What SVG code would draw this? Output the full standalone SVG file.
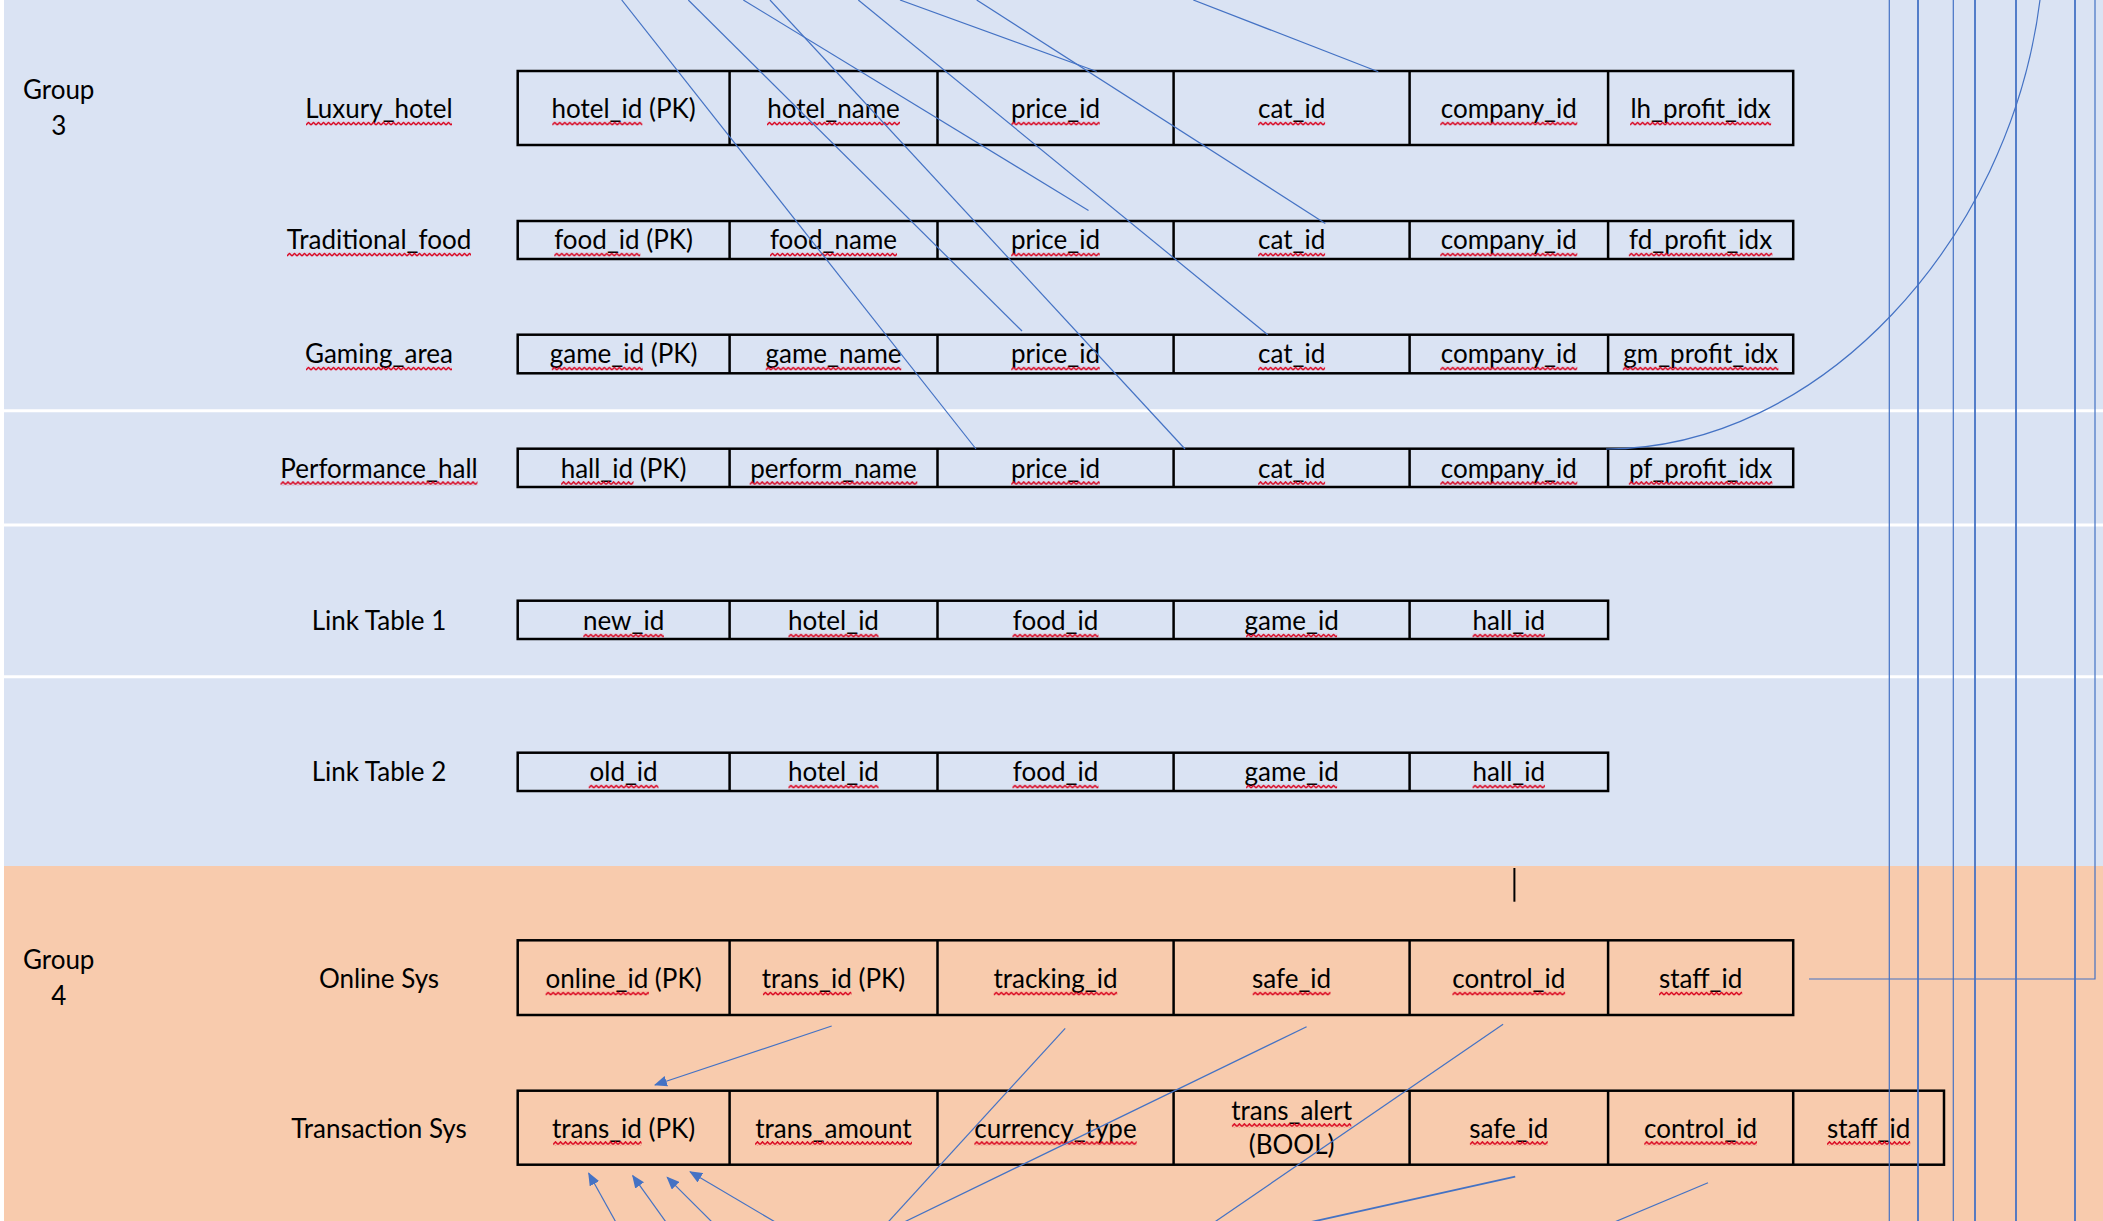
<svg xmlns="http://www.w3.org/2000/svg" width="2103" height="1221" viewBox="0 0 2103 1221">
<style>
.t{font-family:Lato,"Open Sans","Liberation Sans",sans-serif;font-size:26px;fill:#000;text-anchor:middle}
.cell{fill:none;stroke:#000;stroke-width:2.5}
.div{stroke:#000;stroke-width:2.5}
.sep{stroke:#FFFFFF;stroke-width:3}
.c{fill:none;stroke:#4472C4;stroke-width:1.2}
.cw{fill:none;stroke:#4472C4;stroke-width:1.8}
.w{fill:url(#wave)}
</style>
<defs>
<marker id="ah" viewBox="0 0 12 10" refX="11" refY="5" markerWidth="13" markerHeight="11" markerUnits="userSpaceOnUse" orient="auto"><path d="M0,0 L12,5 L0,10 z" fill="#4472C4"/></marker>
<pattern id="wave" patternUnits="userSpaceOnUse" x="0" y="0" width="5" height="4.5"><path d="M0,3.6 L2.5,0.9 L5,3.6" fill="none" stroke="#D9001B" stroke-width="1.5"/></pattern>
</defs>
<rect x="0" y="0" width="2103" height="1221" fill="#FFFFFF"/>
<rect x="4" y="0" width="2099" height="866" fill="#DAE3F3"/>
<rect x="4" y="866" width="2099" height="355" fill="#F8CBAD"/>
<line class="sep" x1="4" y1="410.7" x2="2103" y2="410.7"/>
<line class="sep" x1="4" y1="525" x2="2103" y2="525"/>
<line class="sep" x1="4" y1="676.7" x2="2103" y2="676.7"/>

<g id="group3-label"><text class="t" x="58.7" y="99">Group</text><text class="t" x="58.7" y="135">3</text></g>
<g id="group4-label"><text class="t" x="58.7" y="969">Group</text><text class="t" x="58.7" y="1005">4</text></g>

<g id="luxury_hotel">
<text class="t" x="379" y="118">Luxury_hotel</text>
<rect class="cell" x="517.7" y="71" width="1275.5" height="74"/>
<path class="div" d="M729.6,71V145M937.5,71V145M1173.6,71V145M1409.6,71V145M1608.1,71V145"/>
<text class="t" x="623.6" y="118">hotel_id (PK)</text>
<text class="t" x="833.5" y="118">hotel_name</text>
<text class="t" x="1055.5" y="118">price_id</text>
<text class="t" x="1291.6" y="118">cat_id</text>
<text class="t" x="1508.8" y="118">company_id</text>
<text class="t" x="1700.6" y="118">lh_profit_idx</text>
<rect class="w" transform="translate(306,121.5)" width="146" height="4.5"/>
<rect class="w" transform="translate(552.3,121.5)" width="90" height="4.5"/>
<rect class="w" transform="translate(767,121.5)" width="133" height="4.5"/>
<rect class="w" transform="translate(1011.25,121.5)" width="88.5" height="4.5"/>
<rect class="w" transform="translate(1258.1,121.5)" width="67" height="4.5"/>
<rect class="w" transform="translate(1440.3,121.5)" width="137" height="4.5"/>
<rect class="w" transform="translate(1630.1,121.5)" width="141" height="4.5"/>
</g>

<g id="traditional_food">
<text class="t" x="379" y="249">Traditional_food</text>
<rect class="cell" x="517.7" y="221" width="1275.5" height="38"/>
<path class="div" d="M729.6,221V259M937.5,221V259M1173.6,221V259M1409.6,221V259M1608.1,221V259"/>
<text class="t" x="623.6" y="249">food_id (PK)</text>
<text class="t" x="833.5" y="249">food_name</text>
<text class="t" x="1055.5" y="249">price_id</text>
<text class="t" x="1291.6" y="249">cat_id</text>
<text class="t" x="1508.8" y="249">company_id</text>
<text class="t" x="1700.6" y="249">fd_profit_idx</text>
<rect class="w" transform="translate(287,252.5)" width="184" height="4.5"/>
<rect class="w" transform="translate(554.3,252.5)" width="86" height="4.5"/>
<rect class="w" transform="translate(770,252.5)" width="127" height="4.5"/>
<rect class="w" transform="translate(1011.25,252.5)" width="88.5" height="4.5"/>
<rect class="w" transform="translate(1258.1,252.5)" width="67" height="4.5"/>
<rect class="w" transform="translate(1440.3,252.5)" width="137" height="4.5"/>
<rect class="w" transform="translate(1628.85,252.5)" width="143.5" height="4.5"/>
</g>

<g id="gaming_area">
<text class="t" x="379" y="363">Gaming_area</text>
<rect class="cell" x="517.7" y="334.7" width="1275.5" height="38.6"/>
<path class="div" d="M729.6,334.7V373.3M937.5,334.7V373.3M1173.6,334.7V373.3M1409.6,334.7V373.3M1608.1,334.7V373.3"/>
<text class="t" x="623.6" y="363">game_id (PK)</text>
<text class="t" x="833.5" y="363">game_name</text>
<text class="t" x="1055.5" y="363">price_id</text>
<text class="t" x="1291.6" y="363">cat_id</text>
<text class="t" x="1508.8" y="363">company_id</text>
<text class="t" x="1700.6" y="363">gm_profit_idx</text>
<rect class="w" transform="translate(306,366.5)" width="146" height="4.5"/>
<rect class="w" transform="translate(551.8,366.5)" width="91" height="4.5"/>
<rect class="w" transform="translate(765.75,366.5)" width="135.5" height="4.5"/>
<rect class="w" transform="translate(1011.25,366.5)" width="88.5" height="4.5"/>
<rect class="w" transform="translate(1258.1,366.5)" width="67" height="4.5"/>
<rect class="w" transform="translate(1440.3,366.5)" width="137" height="4.5"/>
<rect class="w" transform="translate(1622.8,366.5)" width="155.6" height="4.5"/>
</g>

<g id="performance_hall">
<text class="t" x="379" y="477.5">Performance_hall</text>
<rect class="cell" x="517.7" y="448.7" width="1275.5" height="38.3"/>
<path class="div" d="M729.6,448.7V487M937.5,448.7V487M1173.6,448.7V487M1409.6,448.7V487M1608.1,448.7V487"/>
<text class="t" x="623.6" y="477.5">hall_id (PK)</text>
<text class="t" x="833.5" y="477.5">perform_name</text>
<text class="t" x="1055.5" y="477.5">price_id</text>
<text class="t" x="1291.6" y="477.5">cat_id</text>
<text class="t" x="1508.8" y="477.5">company_id</text>
<text class="t" x="1700.6" y="477.5">pf_profit_idx</text>
<rect class="w" transform="translate(280.5,481)" width="197" height="4.5"/>
<rect class="w" transform="translate(561.1,481)" width="72.4" height="4.5"/>
<rect class="w" transform="translate(749.7,481)" width="167.6" height="4.5"/>
<rect class="w" transform="translate(1011.25,481)" width="88.5" height="4.5"/>
<rect class="w" transform="translate(1258.1,481)" width="67" height="4.5"/>
<rect class="w" transform="translate(1440.3,481)" width="137" height="4.5"/>
<rect class="w" transform="translate(1628.85,481)" width="143.5" height="4.5"/>
</g>

<g id="link_table_1">
<text class="t" x="379" y="630">Link Table 1</text>
<rect class="cell" x="517.7" y="600.7" width="1090.4" height="38.3"/>
<path class="div" d="M729.6,600.7V639M937.5,600.7V639M1173.6,600.7V639M1409.6,600.7V639"/>
<text class="t" x="623.6" y="630">new_id</text>
<text class="t" x="833.5" y="630">hotel_id</text>
<text class="t" x="1055.5" y="630">food_id</text>
<text class="t" x="1291.6" y="630">game_id</text>
<text class="t" x="1508.8" y="630">hall_id</text>
<rect class="w" transform="translate(583.35,633.5)" width="80.5" height="4.5"/>
<rect class="w" transform="translate(788.5,633.5)" width="90" height="4.5"/>
<rect class="w" transform="translate(1012.5,633.5)" width="86" height="4.5"/>
<rect class="w" transform="translate(1246.1,633.5)" width="91" height="4.5"/>
<rect class="w" transform="translate(1472.6,633.5)" width="72.4" height="4.5"/>
</g>

<g id="link_table_2">
<text class="t" x="379" y="781">Link Table 2</text>
<rect class="cell" x="517.7" y="752.7" width="1090.4" height="38.3"/>
<path class="div" d="M729.6,752.7V791M937.5,752.7V791M1173.6,752.7V791M1409.6,752.7V791"/>
<text class="t" x="623.6" y="781">old_id</text>
<text class="t" x="833.5" y="781">hotel_id</text>
<text class="t" x="1055.5" y="781">food_id</text>
<text class="t" x="1291.6" y="781">game_id</text>
<text class="t" x="1508.8" y="781">hall_id</text>
<rect class="w" transform="translate(588.75,784.5)" width="69.7" height="4.5"/>
<rect class="w" transform="translate(788.5,784.5)" width="90" height="4.5"/>
<rect class="w" transform="translate(1012.5,784.5)" width="86" height="4.5"/>
<rect class="w" transform="translate(1246.1,784.5)" width="91" height="4.5"/>
<rect class="w" transform="translate(1472.6,784.5)" width="72.4" height="4.5"/>
</g>

<g id="online_sys">
<text class="t" x="379" y="988">Online Sys</text>
<rect class="cell" x="517.7" y="940.3" width="1275.5" height="74.7"/>
<path class="div" d="M729.6,940.3V1015M937.5,940.3V1015M1173.6,940.3V1015M1409.6,940.3V1015M1608.1,940.3V1015"/>
<text class="t" x="623.6" y="988">online_id (PK)</text>
<text class="t" x="833.5" y="988">trans_id (PK)</text>
<text class="t" x="1055.5" y="988">tracking_id</text>
<text class="t" x="1291.6" y="988">safe_id</text>
<text class="t" x="1508.8" y="988">control_id</text>
<text class="t" x="1700.6" y="988">staff_id</text>
<rect class="w" transform="translate(545.65,991.5)" width="103.3" height="4.5"/>
<rect class="w" transform="translate(762.95,991.5)" width="88.5" height="4.5"/>
<rect class="w" transform="translate(993.8,991.5)" width="123.4" height="4.5"/>
<rect class="w" transform="translate(1252.7,991.5)" width="77.8" height="4.5"/>
<rect class="w" transform="translate(1452.45,991.5)" width="112.7" height="4.5"/>
<rect class="w" transform="translate(1659,991.5)" width="83.2" height="4.5"/>
</g>

<g id="transaction_sys">
<text class="t" x="379" y="1137.5">Transaction Sys</text>
<rect class="cell" x="517.7" y="1090.7" width="1426.3" height="74"/>
<path class="div" d="M729.6,1090.7V1164.7M937.5,1090.7V1164.7M1173.6,1090.7V1164.7M1409.6,1090.7V1164.7M1608.1,1090.7V1164.7M1793.2,1090.7V1164.7"/>
<text class="t" x="623.6" y="1137.5">trans_id (PK)</text>
<text class="t" x="833.5" y="1137.5">trans_amount</text>
<text class="t" x="1055.5" y="1137.5">currency_type</text>
<text class="t" x="1291.6" y="1119.5">trans_alert</text>
<text class="t" x="1291.6" y="1154">(BOOL)</text>
<text class="t" x="1508.8" y="1137.5">safe_id</text>
<text class="t" x="1700.6" y="1137.5">control_id</text>
<text class="t" x="1868.6" y="1137.5">staff_id</text>
<rect class="w" transform="translate(553.05,1141)" width="88.5" height="4.5"/>
<rect class="w" transform="translate(755,1141)" width="157" height="4.5"/>
<rect class="w" transform="translate(974.35,1141)" width="162.3" height="4.5"/>
<rect class="w" transform="translate(1231.9,1123)" width="119.4" height="4.5"/>
<rect class="w" transform="translate(1469.9,1141)" width="77.8" height="4.5"/>
<rect class="w" transform="translate(1644.25,1141)" width="112.7" height="4.5"/>
<rect class="w" transform="translate(1827,1141)" width="83.2" height="4.5"/>
</g>

<g id="connectors">
<path class="c" d="M621.7,0L976,449"/>
<path class="c" d="M688.3,0L1022,331"/>
<path class="c" d="M743.3,0L1088.5,210.5"/>
<path class="c" d="M770,0L1185,449"/>
<path class="c" d="M858.3,0L1267.7,334.7"/>
<path class="c" d="M900,0L1096.7,71.5"/>
<path class="c" d="M976.7,0L1325.3,223.5"/>
<path class="c" d="M1193.3,0L1378.3,71.7"/>
<path class="c" d="M1606,449C1820,449 2010,240 2040,0"/>
<path class="c" d="M1809,979H2095V0"/>
<path class="c" d="M1889.3,0V1221"/>
<path class="cw" d="M1918,0V1221"/>
<path class="c" d="M1953.3,0V1221"/>
<path class="cw" d="M1975,0V1221"/>
<path class="cw" d="M2016,0V1221"/>
<path class="cw" d="M2075,0V1221"/>
<path class="c" d="M831.7,1026L655,1085" marker-end="url(#ah)"/>
<path class="c" d="M618,1226L588.7,1173.3" marker-end="url(#ah)"/>
<path class="c" d="M668.8,1226L632.7,1175.7" marker-end="url(#ah)"/>
<path class="c" d="M716,1226L667.2,1177.3" marker-end="url(#ah)"/>
<path class="c" d="M782,1226L690.1,1171.7" marker-end="url(#ah)"/>
<path class="c" d="M1065.2,1028.3L884.5,1226"/>
<path class="c" d="M1306.6,1026.7L896,1226"/>
<path class="c" d="M1503.1,1024.3L1208.8,1226"/>
<path class="cw" d="M1515.2,1176.7L1293,1226"/>
<path class="c" d="M1708,1182.7L1605,1226"/>
</g>
<line x1="1514.4" y1="868" x2="1514.4" y2="901.7" stroke="#000" stroke-width="2"/>
</svg>
